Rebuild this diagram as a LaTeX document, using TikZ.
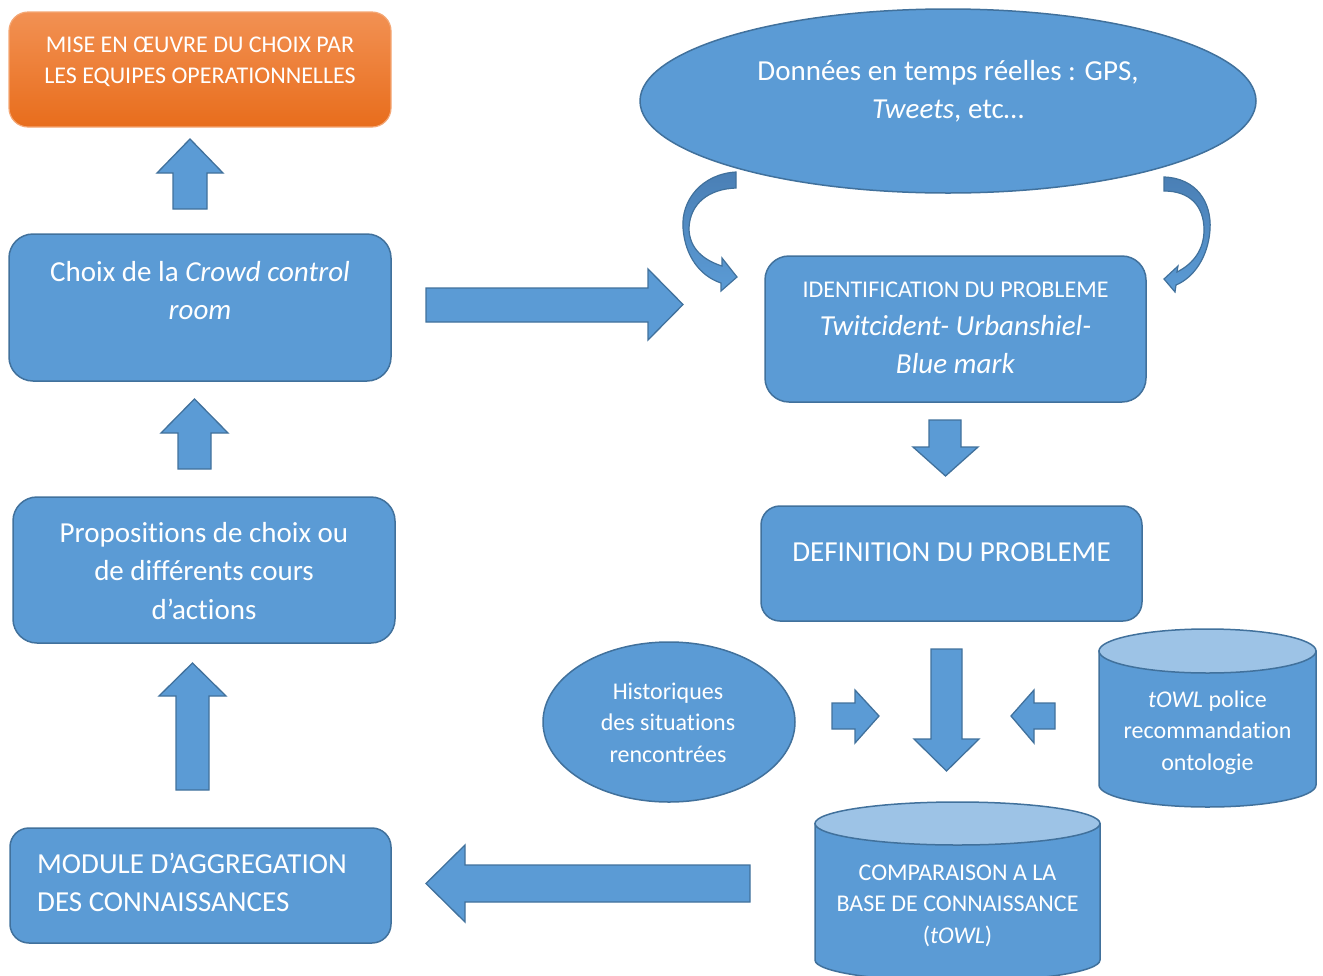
\documentclass[tikz,border=0pt]{standalone}
\usepackage{fontspec}
\setmainfont{Carlito}[Ligatures=NoCommon]
\usetikzlibrary{shapes.geometric}
\definecolor{bfill}{HTML}{5B9BD5}
\definecolor{bline}{HTML}{41719C}
\definecolor{blight}{HTML}{9DC3E6}
\definecolor{bdark}{HTML}{4A7FB5}
\definecolor{otop}{HTML}{F29153}
\definecolor{obot}{HTML}{E86D1C}
\definecolor{oline}{HTML}{F4A775}
\begin{document}
\begin{tikzpicture}[x=1pt,y=-1pt,
  box/.style={draw=bline, fill=bfill, line width=1.5pt, inner sep=0pt},
  blockarrow/.style={draw=bline, fill=bfill, line width=1.3pt, line join=miter},
  curvedarrow/.style={draw=bline, line width=1.2pt, top color=bdark, bottom color=bfill, line join=miter},
  cyl/.style={draw=bline, fill=bfill, line width=1.5pt},
  cyltop/.style={draw=bline, fill=blight, line width=1.5pt},
  txt/.style={text=white, inner sep=0pt, anchor=base},
  big/.style={font=\fontsize{29}{38.5}\selectfont},
  small/.style={font=\fontsize{24}{31.5}\selectfont}]
\useasboundingbox (0,0) rectangle (1323,975);

% ---------- left column boxes ----------
\node[draw=oline, line width=1.2pt, rounded corners=19pt, top color=otop, bottom color=obot,
      inner sep=0pt, minimum width=382pt, minimum height=115pt] (mise) at (200,69.5) {};
\node[txt, small] (tmise) at (200,52) {\begin{tabular}[t]{@{}c@{}}MISE EN ŒUVRE DU CHOIX PAR\\LES EQUIPES OPERATIONNELLES\end{tabular}};

\node[box, rounded corners=24pt, minimum width=382pt, minimum height=147pt] (choix) at (200,307.5) {};
\node[txt, big] (tchoix) at (200,281) {\begin{tabular}[t]{@{}c@{}}Choix de la \textit{Crowd control}\\\textit{room}\end{tabular}};

\node[box, rounded corners=24pt, minimum width=382pt, minimum height=146pt] (prop) at (204,570) {};
\node[txt, big] (tprop) at (204,542) {\begin{tabular}[t]{@{}c@{}}Propositions de choix ou\\de différents cours\\d’actions\end{tabular}};

\node[box, rounded corners=19pt, minimum width=381pt, minimum height=115pt] (module) at (200.5,885.5) {};
\node[txt, big, anchor=base west] (tmodule) at (37,873) {\begin{tabular}[t]{@{}l@{}}MODULE D’AGGREGATION\\DES CONNAISSANCES\end{tabular}};

% ---------- right column ----------
\node[ellipse, draw=bline, fill=bfill, line width=1.5pt, inner sep=0pt,
      minimum width=616pt, minimum height=184pt] (donnees) at (948,101) {};
\node[txt, big] (tdonnees) at (948,80) {\begin{tabular}[t]{@{}c@{}}Données en temps réelles : GPS,\\\textit{Tweets}, etc…\end{tabular}};

\node[box, rounded corners=24pt, minimum width=381pt, minimum height=146pt] (ident) at (955.5,329) {};
\node[txt, font=\fontsize{29}{38}\selectfont] (tident) at (955.5,297) {\begin{tabular}[t]{@{}c@{}}{\fontsize{24}{31.5}\selectfont IDENTIFICATION DU PROBLEME}\\\textit{Twitcident- Urbanshiel-}\\\textit{Blue mark}\end{tabular}};

\node[box, rounded corners=19pt, minimum width=381pt, minimum height=115pt] (defin) at (951.5,563.5) {};
\node[txt, big] (tdefin) at (951.5,561) {DEFINITION DU PROBLEME};

\node[ellipse, draw=bline, fill=bfill, line width=1.5pt, inner sep=0pt,
      minimum width=252pt, minimum height=160pt] (histo) at (669,722) {};
\node[txt, small] (thisto) at (668,699) {\begin{tabular}[t]{@{}c@{}}Historiques\\des situations\\rencontrées\end{tabular}};

% tOWL cylinder
\draw[cyl] (1099,651) -- (1099,785) .. controls (1099,797.15) and (1147.6,807) .. (1207.5,807)
  .. controls (1267.4,807) and (1316,797.15) .. (1316,785) -- (1316,651) -- cycle;
\draw[cyltop] (1207.5,651) ellipse [x radius=108.5, y radius=22];
\node[txt, small] (ttowl) at (1207.5,707) {\begin{tabular}[t]{@{}c@{}}\textit{tOWL} police\\recommandation\\ontologie\end{tabular}};

% comparaison cylinder
\draw[cyl] (815,823.5) -- (815,960) .. controls (815,971.9) and (878.8,981.5) .. (957.5,981.5)
  .. controls (1036.2,981.5) and (1100,971.9) .. (1100,960) -- (1100,823.5) -- cycle;
\draw[cyltop] (957.5,823.5) ellipse [x radius=142.5, y radius=21.5];
\node[txt, small] (tcomp) at (957.5,880) {\begin{tabular}[t]{@{}c@{}}COMPARAISON A LA\\BASE DE CONNAISSANCE\\(\textit{tOWL})\end{tabular}};

% ---------- block arrows ----------
\draw[blockarrow] (173,209) -- (173,173) -- (157,173) -- (190,139) -- (223,173) -- (207,173) -- (207,209) -- cycle;
\draw[blockarrow] (178,469) -- (178,433) -- (161,433) -- (194.5,399) -- (228,433) -- (211,433) -- (211,469) -- cycle;
\draw[blockarrow] (176,790) -- (176,696) -- (159,696) -- (192.5,663) -- (226,696) -- (209,696) -- (209,790) -- cycle;
\draw[blockarrow] (426,288) -- (648,288) -- (648,269) -- (683,304.5) -- (648,340) -- (648,322) -- (426,322) -- cycle;
\draw[blockarrow] (750,865) -- (465,865) -- (465,845) -- (426,883.5) -- (465,922) -- (465,902) -- (750,902) -- cycle;
\draw[blockarrow] (929,420) -- (961,420) -- (961,447) -- (978,447) -- (945.5,476) -- (913,447) -- (929,447) -- cycle;
\draw[blockarrow] (931,649) -- (962,649) -- (962,739) -- (979,739) -- (946.5,771) -- (914,739) -- (931,739) -- cycle;
\draw[blockarrow] (832,703) -- (855,703) -- (855,690) -- (879,716) -- (855,743) -- (855,729) -- (832,729) -- cycle;
\draw[blockarrow] (1055,703) -- (1034,703) -- (1034,690) -- (1011,716) -- (1034,743) -- (1034,729) -- (1055,729) -- cycle;

% ---------- curved arrows ----------
\draw[curvedarrow] (736,172) .. controls (702,174) and (681,200) .. (683,228)
  .. controls (685,256) and (700,276) .. (721,283) -- (721,291) -- (737,277) -- (722,258) -- (722,266)
  .. controls (703,260) and (689,248) .. (689,228) .. controls (690,204) and (708,189) .. (736,188) -- cycle;
\draw[curvedarrow] (1164,177) .. controls (1196,178) and (1212,202) .. (1210,230)
  .. controls (1208,258) and (1193,278) .. (1176,285) -- (1175,292) -- (1164,279) -- (1178,266) -- (1177,272)
  .. controls (1193,264) and (1204,250) .. (1204,230) .. controls (1204,206) and (1190,191) .. (1164,191) -- cycle;
\end{tikzpicture}
\end{document}
